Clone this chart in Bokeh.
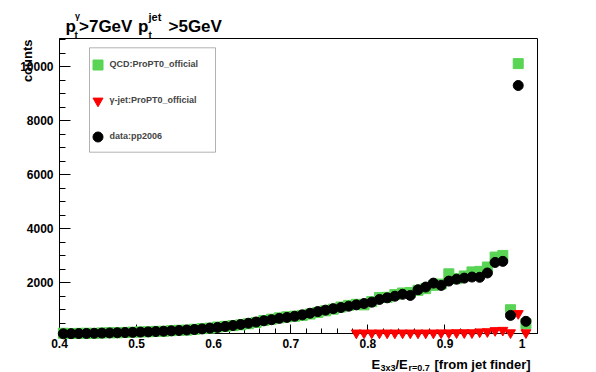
import math
from bokeh.plotting import figure
from bokeh.models import (Range1d, FixedTicker, Legend, LegendItem,
                          BoxAnnotation, CustomJSTickFormatter)
from bokeh.core.properties import value
from bokeh.embed import file_html
from bokeh.resources import INLINE

# ---------------- data ----------------
bin_centers = [round(0.405 + 0.01 * i, 3) for i in range(61)]

qcd = [130, 120, 125, 130, 125, 140, 150, 145, 160, 170,
       180, 185, 200, 200, 225, 240, 245, 275, 300, 320,
       360, 385, 410, 440, 480, 530, 600, 650, 700, 740,
       760, 790, 840, 900, 960, 1020, 1100, 1160, 1200, 1180,
       1300, 1450, 1460, 1560, 1620, 1640, 1720, 1780, 1900, 1950,
       2330, 2150, 2250, 2400, 2420, 2580, 2950, 3010, 1000, 10110,
       480]

gjet = [0, 0, 0, 0, 0, 0, 0, 0, 0, 0,
        0, 0, 0, 0, 0, 0, 0, 0, 0, 0,
        0, 0, 0, 0, 0, 0, 0, 0, 0, 0,
        0, 0, 0, 0, 0, 0, 0, 0, 140, 140,
        140, 140, 140, 140, 140, 140, 140, 140, 140, 145,
        145, 150, 150, 150, 180, 190, 230, 240, 150, 860,
        150]

data = [110, 115, 118, 122, 128, 135, 140, 148, 155, 162,
        172, 180, 192, 205, 218, 232, 250, 268, 290, 320,
        345, 380, 415, 455, 500, 545, 590, 630, 680, 715,
        760, 810, 870, 930, 985, 1040, 1080, 1130, 1180, 1230,
        1280, 1380, 1440, 1500, 1570, 1530, 1740, 1840, 1985, 1900,
        2060, 2130, 2170, 2210, 2200, 2360, 2750, 2790, 790, 9300,
        570]

series_labels = ["QCD:ProPT0_official", "\u03b3-jet:ProPT0_official", "data:pp2006"]
x_major = [0.4, 0.5, 0.6, 0.7, 0.8, 0.9, 1.0]
y_major = [2000, 4000, 6000, 8000, 10000]

X_MIN, X_MAX = 0.4, 1.02
Y_MIN, Y_MAX = 120, 11040

GREEN = "#59d454"
RED = "#ff0000"
FONT = "Liberation Sans"

# frame position on the page (pixels)
FL, FR, FT, FB = 59, 537, 38, 333
W, H = 596, 372

# ---------------- figure ----------------
p = figure(width=W, height=H, output_backend="svg", toolbar_location=None,
           x_range=Range1d(X_MIN, X_MAX), y_range=Range1d(Y_MIN, Y_MAX),
           min_border_left=FL, min_border_right=W - FR, min_border_top=FT,
           min_border_bottom=H - FB)
p.xgrid.visible = False
p.ygrid.visible = False
p.outline_line_color = "black"
p.outline_line_width = 1
p.background_fill_color = "white"
p.border_fill_color = "white"

x_minor = [round(0.4 + 0.02 * i, 3) for i in range(32)]
y_minor = [500 * i for i in range(1, 23)]
p.xaxis.ticker = FixedTicker(ticks=x_major, minor_ticks=x_minor)
p.yaxis.ticker = FixedTicker(ticks=y_major, minor_ticks=y_minor)
p.xaxis.formatter = CustomJSTickFormatter(
    code="const s = tick.toFixed(1); return s == '1.0' ? '1' : s;")

for ax in (p.xaxis, p.yaxis):
    ax.axis_line_color = "black"
    ax.major_tick_line_color = "black"
    ax.minor_tick_line_color = "black"
    ax.major_tick_out = 0
    ax.minor_tick_out = 0
    ax.major_label_text_font = FONT
    ax.major_label_text_font_style = "bold"
    ax.major_label_text_font_size = "12px"
    ax.major_label_text_color = "black"

p.xaxis.major_tick_in = 9
p.xaxis.minor_tick_in = 5
p.xaxis.major_label_standoff = 5
p.yaxis.major_tick_in = 11
p.yaxis.minor_tick_in = 6
p.yaxis.major_label_standoff = 6

# ---------------- series ----------------
gx = [x for x, v in zip(bin_centers, gjet) if v >= Y_MIN]
gv = [v for v in gjet if v >= Y_MIN]

r_qcd = p.scatter(bin_centers, qcd, marker="square", size=10,
                  fill_color=GREEN, line_color=GREEN, level="overlay")
r_gj = p.scatter(gx, gv, marker="inverted_triangle", size=10,
                 fill_color=RED, line_color=RED, level="overlay")
r_dat = p.scatter(bin_centers, data, marker="circle", size=10,
                  fill_color="black", line_color="black", level="overlay")


# ---------------- legend ----------------
def sx(px):
    return px - FL


def sy(py):
    return FB - py


legend = Legend(items=[LegendItem(label=series_labels[0], renderers=[r_qcd]),
                       LegendItem(label=series_labels[1], renderers=[r_gj]),
                       LegendItem(label=series_labels[2], renderers=[r_dat])],
                location=(sx(84.5), sy(148.5)),
                padding=0, spacing=11, margin=0,
                glyph_width=25, glyph_height=25, label_height=25,
                label_standoff=0,
                label_text_font=FONT, label_text_font_style="bold",
                label_text_font_size="9px",
                border_line_alpha=0, background_fill_alpha=0)
p.add_layout(legend)
p.add_layout(BoxAnnotation(left=sx(89), right=sx(215), top=sy(47.3), bottom=sy(151.7),
                           left_units="screen", right_units="screen",
                           top_units="screen", bottom_units="screen",
                           fill_alpha=0, line_color="black", line_width=1))


# ---------------- texts (text glyphs, drawn unclipped) ----------------
def dx(px):
    return X_MIN + (px - FL) / (FR - FL) * (X_MAX - X_MIN)


def dy(py):
    return Y_MIN + (FB - py) / (FB - FT) * (Y_MAX - Y_MIN)


def add_text(text, px, py, size, align="left", angle=0.0):
    p.text(x=[dx(px)], y=[dy(py)], text=[text], angle=angle,
           text_font=value(FONT), text_font_style="bold",
           text_font_size=value(f"{size}px"), text_align=align,
           text_baseline="alphabetic", text_color="black", level="overlay")


# title  p_t^gamma > 7GeV  p_t^jet > 5GeV
add_text("p", 65, 26, 17)
add_text("\u03b3", 74.5, 15, 9)
add_text("t", 74, 35, 10)
add_text(">7GeV", 78.5, 26, 17)
add_text("p", 137.5, 26, 17)
add_text("jet", 148, 16, 11)
add_text("t", 148, 35, 10)
add_text(">5GeV", 168, 26, 17)

# x-axis title  E_3x3 / E_r=0.7 [from jet finder]
add_text("E", 371, 364, 13)
add_text("3x3", 380, 367.5, 9)
add_text("/E", 395, 364, 13)
add_text("r=0.7", 408, 367.5, 9)
add_text("[from jet finder]", 434, 364, 13)

# y-axis title
add_text("counts", 26.5, 39, 13, align="right", angle=math.pi / 2)

open("out.html", "w").write(file_html(p, INLINE))
